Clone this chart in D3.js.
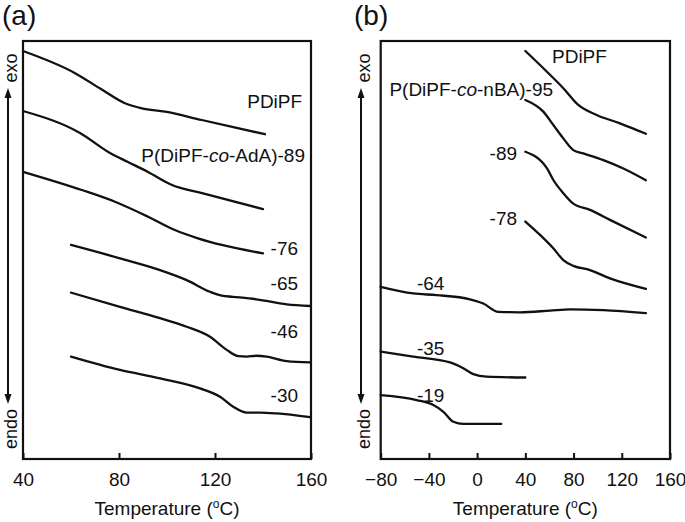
<!DOCTYPE html>
<html><head><meta charset="utf-8">
<script src="https://cdn.jsdelivr.net/npm/d3@7"></script>
<style>
body{margin:0;background:#fff;}
svg text{font-family:"Liberation Sans",Arial,sans-serif;fill:#111;}
</style></head>
<body><svg id="c" width="685" height="522"></svg>
<script>
// ---- Data (temperature in °C, heat flow in arbitrary units, offset curves) ----
const ticksA = [40, 80, 120, 160];
const ticksB = [-80, -40, 0, 40, 80, 120, 160];

const a_PDiPF = [[40,97.6],[61.7,92.3],[72.5,88.5],[82.5,85.1],[89.5,83.9],[99.2,83.1],[114.5,81.1],[140.8,77.7]];
const a_89 = [[40,83.25],[63.75,78.0],[76.25,73.2],[83.75,71.05],[92.1,68.66],[102.1,65.55],[114.6,63.6],[140,59.8]];
const a_76 = [[40,68.7],[64.5,64.35],[78.3,61.55],[92.1,57.97],[103.3,54.78],[112.9,52.8],[122.8,51.2],[140,49.2]];
const a_65 = [[60,51.2],[80.4,48.0],[97.1,45.2],[108.2,42.8],[117.9,40.0],[122.8,39.07],[127.5,38.8],[137.4,38.2],[149.9,37.0],[159.6,36.6]];
const a_46 = [[60,39.8],[80.4,36.4],[97.1,33.7],[108.2,31.65],[117.9,29.26],[124.9,26.1],[129.7,24.6],[133.2,24.5],[137.4,24.7],[141.5,24.5],[149.9,23.4],[159.6,23.1]];
const a_30 = [[60,24.5],[80.4,21.3],[97.1,19.3],[113.75,16.9],[122.1,14.9],[127.6,12.5],[133.2,11.1],[138.75,11.1],[145.7,10.9],[159.6,10.0]];

const b_PDiPF = [[40,97.6],[57.7,92.7],[71.5,88.7],[83.9,84.7],[99.2,82.3],[118.5,80.3],[140,77.8]];
const b_95 = [[40,85.9],[54.9,83.1],[63.2,79.9],[71.5,76.7],[79.8,73.9],[88.1,73.1],[104.7,71.5],[121.3,69.5],[140,66.7]];
const b_89 = [[40,73.5],[58,69.5],[63.2,66.75],[71.5,63.6],[79.8,61.1],[93.6,59.6],[110.2,57.2],[140,53.0]];
const b_78 = [[40,56.8],[52.2,53.6],[63.2,50.4],[71.5,47.6],[79.8,46.2],[93.6,45.2],[110.2,43.2],[140,40.7]];
const b_64 = [[-80,41.2],[-53,39.6],[-33.5,39.2],[-5.9,38.2],[5.1,37.2],[17.6,35.2],[35.6,35.1],[60.5,35.5],[77,35.8],[104.7,35.6],[140,34.9]];
const b_35 = [[-80,25.7],[-53,24.5],[-22.5,23.1],[-11.5,21.7],[-3.2,20.3],[7.9,19.7],[40,19.5]];
const b_19 = [[-80,15.3],[-50.1,14.1],[-36.3,12.9],[-28,11.3],[-19.7,8.9],[-11.5,8.4],[20,8.4]];

// labels: [text, T, value, anchor]
const labelsA = [["PDiPF",156.3,84.0,"end"],["P(DiPF-|co|-AdA)-89",157.5,71.0,"end"],["-76",154.6,48.8,"end"],["-65",154.6,40.4,"end"],["-46",154.6,28.9,"end"],["-30",154.6,13.6,"end"]];
const labelsB = [["PDiPF",62.1,94.7,"start"],["P(DiPF-|co|-nBA)-95",63,86.8,"end"],["-89",33.1,71.5,"end"],["-78",33.1,56.0,"end"],["-64",-49.9,40.4,"start"],["-35",-49.9,24.9,"start"],["-19",-49.9,13.6,"start"]];

// ---- Layout ----
const svg = d3.select("#c");
const plotTop = 41, plotBottom = 459;
const y = d3.scaleLinear().domain([0,100]).range([plotBottom, plotTop]);
const panels = [
  {title:"(a)", tx:2, x0:23, x1:311, domain:[40,160], ticks:ticksA, series:[a_PDiPF,a_89,a_76,a_65,a_46,a_30], labels:labelsA, arrowX:8},
  {title:"(b)", tx:354, x0:380.7, x1:670, domain:[-80,160], ticks:ticksB, series:[b_PDiPF,b_95,b_89,b_78,b_64,b_35,b_19], labels:labelsB, arrowX:361}
];

panels.forEach(p => {
  const x = d3.scaleLinear().domain(p.domain).range([p.x0, p.x1]);
  const g = svg.append("g");
  g.append("text").attr("x", p.tx).attr("y", 25).attr("font-size", 28).text(p.title);

  const ax = d3.axisBottom(x).tickValues(p.ticks).tickSize(-6).tickPadding(13.5).tickFormat(d3.format("d"));
  const ag = g.append("g").attr("transform", `translate(0,${plotBottom})`).call(ax);
  ag.select(".domain").remove();
  ag.selectAll(".tick line").attr("stroke","#111").attr("stroke-width",2);
  ag.selectAll(".tick text").attr("font-size",19).attr("fill","#111")
    .attr("font-family","Liberation Sans, Arial, sans-serif");

  g.append("rect").attr("x", p.x0).attr("y", plotTop).attr("width", p.x1-p.x0).attr("height", plotBottom-plotTop)
    .attr("fill","none").attr("stroke","#111").attr("stroke-width",2.2);

  const line = d3.line().x(d => x(d[0])).y(d => y(d[1])).curve(d3.curveMonotoneX);
  p.series.forEach(s => {
    g.append("path").attr("d", line(s)).attr("fill","none").attr("stroke","#111")
      .attr("stroke-width",2.3).attr("stroke-linejoin","round").attr("stroke-linecap","round");
  });

  p.labels.forEach(l => {
    const t = g.append("text").attr("x", x(l[1])).attr("y", y(l[2])).attr("font-size",19).attr("text-anchor", l[3]);
    l[0].split("|").forEach((part,i) => {
      t.append("tspan").attr("font-style", i===1 ? "italic" : "normal").text(part);
    });
  });

  const cx = (p.x0 + p.x1) / 2;
  const xt = g.append("text").attr("x", cx).attr("y", 515).attr("font-size",19).attr("text-anchor","middle");
  xt.append("tspan").text("Temperature (");
  xt.append("tspan").attr("font-size",12).attr("dy",-7).text("o");
  xt.append("tspan").attr("dy",7).text("C)");

  // exo / endo arrow
  const axX = p.arrowX;
  g.append("line").attr("x1",axX).attr("x2",axX).attr("y1",96).attr("y2",396).attr("stroke","#111").attr("stroke-width",2);
  g.append("path").attr("d",`M${axX-3.5},98 L${axX},88 L${axX+3.5},98 Z`).attr("fill","#111");
  g.append("path").attr("d",`M${axX-3.5},394 L${axX},404 L${axX+3.5},394 Z`).attr("fill","#111");
  g.append("text").attr("transform",`translate(${axX+9},68) rotate(-90)`).attr("text-anchor","middle").attr("font-size",18).text("exo");
  g.append("text").attr("transform",`translate(${axX+9},429) rotate(-90)`).attr("text-anchor","middle").attr("font-size",18).text("endo");
});
</script></body></html>
